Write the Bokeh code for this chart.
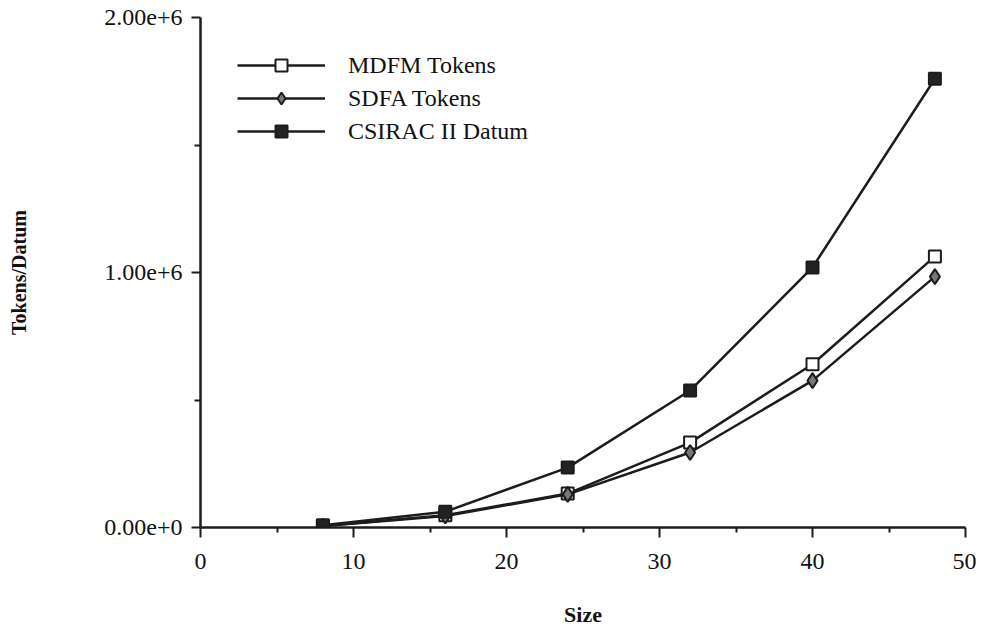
from bokeh.plotting import figure
from bokeh.models import Range1d, FixedTicker, Legend, LegendItem
from bokeh.embed import file_html
from bokeh.resources import INLINE

sizes = [8, 16, 24, 32, 40, 48]
mdfm_tokens = [6000, 48000, 133000, 333000, 640000, 1063000]
sdfa_tokens = [6000, 45000, 130000, 294000, 576000, 984000]
csirac_datum = [9000, 62000, 235000, 537000, 1020000, 1760000]

x_ticks = [0, 10, 20, 30, 40, 50]
x_minor = [5, 15, 25, 35, 45]
y_ticks = [0, 1000000, 2000000]
y_minor = [500000, 1500000]
y_tick_labels = ["0.00e+0", "1.00e+6", "2.00e+6"]

FONT = "Liberation Serif"
INK = "#1c1c1c"

p = figure(width=976, height=630, output_backend="svg", toolbar_location=None,
           x_range=Range1d(0, 50), y_range=Range1d(0, 2000000),
           min_border_left=200, min_border_right=11, min_border_top=17, min_border_bottom=103)
p.outline_line_color = None
p.grid.visible = False

r1l = p.line(sizes, mdfm_tokens, line_color=INK, line_width=2.5)
r1m = p.scatter(sizes, mdfm_tokens, marker="square", size=12, fill_color="white", line_color=INK, line_width=2)
r2l = p.line(sizes, sdfa_tokens, line_color=INK, line_width=2.5)
r2m = p.scatter(sizes, sdfa_tokens, marker="diamond", size=15, fill_color="#777777", line_color=INK, line_width=2)
r3l = p.line(sizes, csirac_datum, line_color=INK, line_width=2.5)
r3m = p.scatter(sizes, csirac_datum, marker="square", size=12, fill_color="#222222", line_color=INK, line_width=2)

legend = Legend(items=[
    LegendItem(label="MDFM Tokens", renderers=[r1l, r1m]),
    LegendItem(label="SDFA Tokens", renderers=[r2l, r2m]),
    LegendItem(label="CSIRAC II Datum", renderers=[r3l, r3m]),
], location=(37, 381))
legend.glyph_width = 88
legend.glyph_height = 30
legend.label_height = 30
legend.spacing = 3
legend.padding = 0
legend.margin = 0
legend.label_standoff = 23
legend.border_line_color = None
legend.background_fill_alpha = 0
legend.label_text_font = FONT
legend.label_text_font_size = "24px"
legend.label_text_color = "#111111"
p.add_layout(legend, "center")

for ax in (p.xaxis[0], p.yaxis[0]):
    ax.axis_line_color = INK
    ax.axis_line_width = 2.5
    ax.major_tick_line_color = INK
    ax.major_tick_line_width = 2
    ax.minor_tick_line_color = INK
    ax.minor_tick_line_width = 2
    ax.major_tick_in = 0
    ax.minor_tick_in = 0
    ax.major_label_text_font = FONT
    ax.major_label_text_font_size = "24px"
    ax.major_label_text_color = "#111111"
    ax.axis_label_text_font = FONT
    ax.axis_label_text_font_style = "bold"
    ax.axis_label_text_color = "#111111"

p.xaxis.ticker = FixedTicker(ticks=x_ticks, minor_ticks=x_minor)
p.xaxis.major_tick_out = 10
p.xaxis.minor_tick_out = 5
p.xaxis.major_label_standoff = 16
p.xaxis.axis_label = "Size"
p.xaxis.axis_label_text_font_size = "22px"
p.xaxis.axis_label_standoff = 30

p.yaxis.ticker = FixedTicker(ticks=y_ticks, minor_ticks=y_minor)
p.yaxis.major_label_overrides = {t: s for t, s in zip(y_ticks, y_tick_labels)}
p.yaxis.major_tick_out = 9
p.yaxis.minor_tick_out = 6
p.yaxis.major_label_standoff = 9
p.yaxis.axis_label = "Tokens/Datum"
p.yaxis.axis_label_text_font_size = "20px"
p.yaxis.axis_label_standoff = 71

open("out.html", "w").write(file_html(p, INLINE))
